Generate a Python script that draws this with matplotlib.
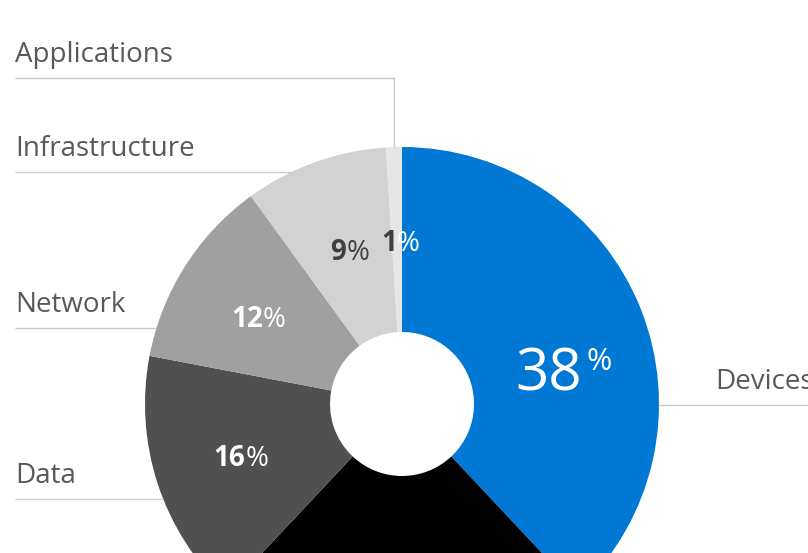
"""Zero Trust pillar share, drawn as a donut with leader-line labels (out.png)."""

import numpy as np
import matplotlib

matplotlib.use("Agg")
import matplotlib.pyplot as plt

categories = ["Devices", "Identities", "Data", "Network", "Infrastructure", "Applications"]
shares = [38, 24, 16, 12, 9, 1]
colors = ["#0078D4", "#000000", "#505050", "#A0A0A0", "#D2D2D2", "#E6E6E6"]

plt.rcParams["font.family"] = ["Open Sans", "DejaVu Sans"]

W, H = 808, 553
CX, CY = 402, H - 404
R_OUT, R_IN = 257, 72
LINE_COLOR = "#C8C8C8"
NAME_COLOR = "#595959"

# pixel row of each leader line (names without a row fall below the frame)
leader_rows = {"Applications": 78, "Infrastructure": 172, "Network": 328, "Data": 499, "Devices": 405}
# percentage text colours: (number, percent sign)
pct_colors = {
    "Devices": ("white", "white"),
    "Data": ("white", "white"),
    "Network": ("white", "white"),
    "Infrastructure": ("#404040", "#404040"),
    "Applications": ("#404040", "white"),
}

fig = plt.figure(figsize=(W / 100, H / 100), dpi=100)
ax = fig.add_axes([0, 0, 1, 1])
wedges, _ = ax.pie(
    shares,
    colors=colors,
    startangle=90,
    counterclock=False,
    center=(CX, CY),
    radius=R_OUT,
    wedgeprops=dict(width=R_OUT - R_IN, linewidth=0),
    frame=True,
)
ax.set_xlim(0, W)
ax.set_ylim(0, H)
ax.axis("off")

r_mid = (R_OUT + R_IN) / 2
for name, share, wedge in zip(categories, shares, wedges):
    if name not in leader_rows:
        continue
    mid = np.deg2rad((wedge.theta1 + wedge.theta2) / 2)
    num_c, pct_c = pct_colors[name]
    if name == "Devices":
        # the big label sits a little lower than the slice middle
        ang = mid - np.deg2rad(10)
        x, y = CX + r_mid * np.cos(ang), CY + r_mid * np.sin(ang)
        ax.text(x - 14, y - 20, f"{share}", fontsize=42, color=num_c, ha="center", va="baseline")
        ax.text(x + 23, y + 1, "%", fontsize=22, color=pct_c, ha="left", va="baseline")
    else:
        x, y = CX + r_mid * np.cos(mid), CY + r_mid * np.sin(mid)
        ax.text(x, y - 11, f"{share}", fontsize=20, fontweight="bold", color=num_c,
                ha="right", va="baseline")
        ax.text(x, y - 11, "%", fontsize=20, color=pct_c, ha="left", va="baseline")

    ly = H - leader_rows[name]
    dy = ly - CY
    if name == "Devices":
        x0 = CX + np.sqrt(R_OUT**2 - dy**2)
        ax.plot([x0, W], [ly, ly], color=LINE_COLOR, lw=1.0, solid_capstyle="butt")
        ax.text(715, ly + 16, name, fontsize=20, color=NAME_COLOR, ha="left", va="baseline")
    else:
        if abs(dy) < R_OUT:
            x1 = CX - np.sqrt(R_OUT**2 - dy**2)
            ax.plot([15, x1], [ly, ly], color=LINE_COLOR, lw=1.0, solid_capstyle="butt")
        else:
            ex, ey = CX + R_OUT * np.cos(mid), CY + R_OUT * np.sin(mid)
            ax.plot([15, ex, ex], [ly, ly, ey], color=LINE_COLOR, lw=1.0, solid_capstyle="butt")
        ax.text(15, ly + 16, name, fontsize=20, color=NAME_COLOR, ha="left", va="baseline")

fig.savefig("out.png", dpi=100)
